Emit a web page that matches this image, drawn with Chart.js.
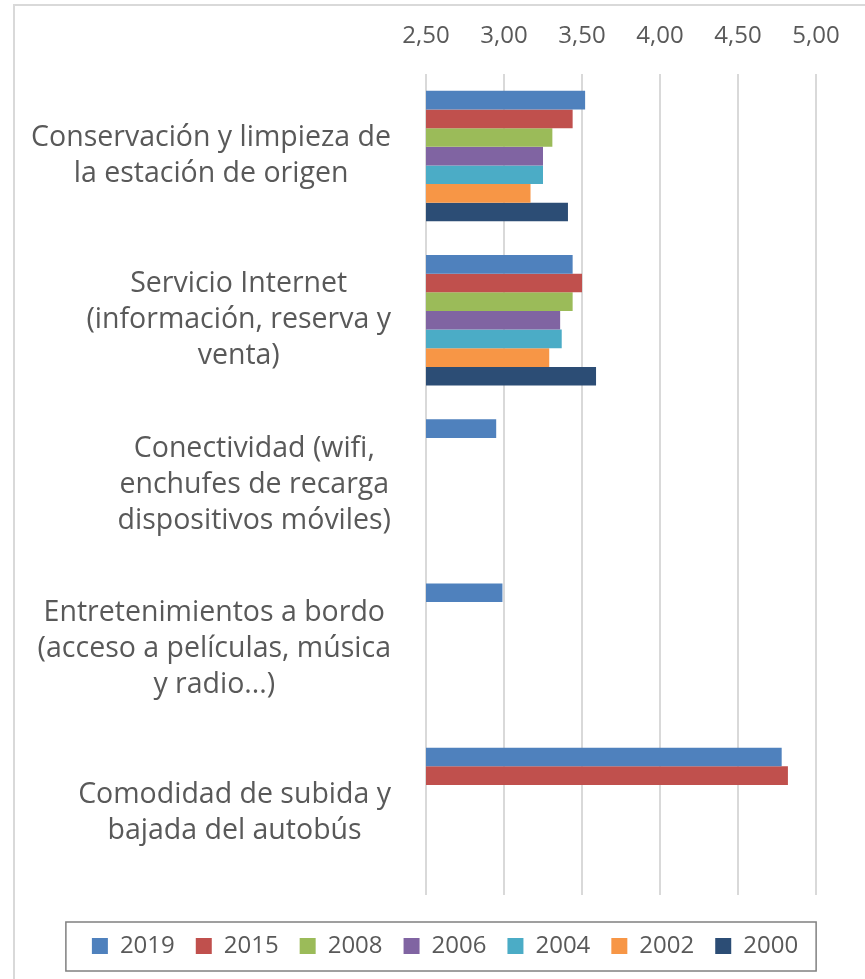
<!DOCTYPE html>
<html>
<head>
<meta charset="utf-8">
<script src="https://cdn.jsdelivr.net/npm/chart.js@4.4.1/dist/chart.umd.min.js"></script>
<style>
  html, body { margin: 0; padding: 0; background: #fff; }
  #wrap { position: relative; width: 865px; height: 979px; }
</style>
</head>
<body>
<div id="wrap"><canvas id="barChart" width="865" height="979"></canvas></div>
<script>
const categories = [
    ['Conservación y limpieza de', 'la estación de origen'],
    ['Servicio Internet', '(información, reserva y', 'venta)'],
    ['Conectividad (wifi,', 'enchufes de recarga', 'dispositivos móviles)'],
    ['Entretenimientos a bordo', '(acceso a películas, música', 'y radio...)'],
    ['Comodidad de subida y', 'bajada del autobús']
];
const years = ['2019', '2015', '2008', '2006', '2004', '2002', '2000'];
const colors = ['#4F81BD', '#C0504D', '#9BBB59', '#8064A2', '#4BACC6', '#F79646', '#2C4D75'];

const v2019 = [3.52, 3.44, 2.95, 2.99, 4.78];
const v2015 = [3.44, 3.50, null, null, 4.82];
const v2008 = [3.31, 3.44, null, null, null];
const v2006 = [3.25, 3.36, null, null, null];
const v2004 = [3.25, 3.37, null, null, null];
const v2002 = [3.17, 3.29, null, null, null];
const v2000 = [3.41, 3.59, null, null, null];
const seriesValues = [v2019, v2015, v2008, v2006, v2004, v2002, v2000];

const xTicks = [2.5, 3.0, 3.5, 4.0, 4.5, 5.0];

const textColor = '#595959';
const fontFamily = '"Open Sans", sans-serif';

// category labels: each block right-aligned to the axis, lines centred inside it
const categoryLabels = {
    id: 'categoryLabels',
    afterDraw(chart) {
        const ctx = chart.ctx;
        const yScale = chart.scales.y;
        const right = chart.chartArea.left - 35;
        const lineH = 36;
        ctx.save();
        ctx.font = '28.5px ' + fontFamily;
        ctx.fillStyle = textColor;
        ctx.textAlign = 'center';
        ctx.textBaseline = 'middle';
        categories.forEach((lines, i) => {
            const yc = yScale.getPixelForTick(i);
            const widest = Math.max(...lines.map(l => ctx.measureText(l).width));
            const xc = right - widest / 2;
            lines.forEach((line, j) => {
                ctx.fillText(line, xc, yc + (j - (lines.length - 1) / 2) * lineH);
            });
        });
        ctx.restore();
    }
};

// outer frame and the box round the legend
const frame = {
    id: 'frame',
    beforeDraw(chart) {
        const ctx = chart.ctx;
        ctx.save();
        ctx.fillStyle = '#fff';
        ctx.fillRect(0, 0, chart.width, chart.height);
        ctx.fillStyle = '#d9d9d9';
        ctx.fillRect(13, 4, 2, chart.height - 4);
        ctx.fillRect(13, 4, chart.width - 13, 2);
        ctx.restore();
    },
    afterLayout(chart) {
        const lg = chart.legend;
        lg.top += 18;
        lg.bottom += 18;
        lg.left += 30;
        lg.right += 30;
    },
    afterDraw(chart) {
        const lg = chart.legend;
        const boxes = lg.legendHitBoxes;
        if (!boxes || !boxes.length) return;
        const first = boxes[0];
        const last = boxes[boxes.length - 1];
        const cy = first.top + first.height / 2;
        const ctx = chart.ctx;
        ctx.save();
        ctx.strokeStyle = '#808080';
        ctx.lineWidth = 1.5;
        const x0 = first.left - 26;
        const x1 = last.left + last.width + 18;
        ctx.strokeRect(x0, cy - 24, x1 - x0, 49);
        ctx.restore();
    }
};

new Chart(document.getElementById('barChart'), {
    type: 'bar',
    data: {
        labels: categories,
        datasets: years.map((y, i) => ({
            label: y,
            data: seriesValues[i],
            backgroundColor: colors[i],
            borderWidth: 0,
            categoryPercentage: 0.795,
            barPercentage: 1.0
        }))
    },
    options: {
        indexAxis: 'y',
        responsive: false,
        animation: false,
        layout: { padding: { left: 14, right: 49, top: 0, bottom: 29 } },
        scales: {
            x: {
                position: 'top',
                min: 2.5,
                max: 5,
                afterBuildTicks(scale) {
                    scale.ticks = xTicks.map(v => ({ value: v }));
                },
                afterFit(scale) { scale.height = 74; },
                grid: { color: '#d9d9d9', lineWidth: 2, drawTicks: false },
                border: { display: false },
                ticks: {
                    padding: 23,
                    color: textColor,
                    font: { family: fontFamily, size: 24 },
                    callback: v => Number(v).toFixed(2).replace('.', ',')
                }
            },
            y: {
                grid: { display: false },
                border: { display: false },
                ticks: { display: false },
                afterFit(scale) { scale.width = 412; }
            }
        },
        plugins: {
            legend: {
                position: 'bottom',
                labels: {
                    boxWidth: 16,
                    boxHeight: 16,
                    padding: 21,
                    color: textColor,
                    font: { family: fontFamily, size: 24 }
                }
            },
            tooltip: { enabled: false }
        }
    },
    plugins: [frame, categoryLabels]
});
</script>
</body>
</html>
